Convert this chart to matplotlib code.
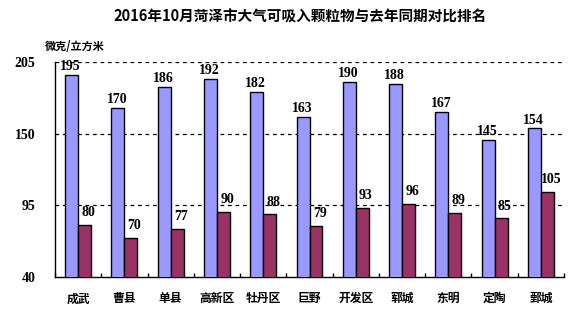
import numpy as np
import matplotlib
matplotlib.use("Agg")
import matplotlib.pyplot as plt

plt.rcParams['font.family'] = ['Liberation Serif', 'Noto Sans CJK SC', 'DejaVu Sans']
plt.rcParams['font.weight'] = 'bold'

# 各县区PM10浓度（微克/立方米）
areas = ["成武", "曹县", "单县", "高新区", "牡丹区", "巨野", "开发区", "郓城", "东明", "定陶", "鄄城"]
last_year = [195, 170, 186, 192, 182, 163, 190, 188, 167, 145, 154]
this_year = [80, 70, 77, 90, 88, 79, 93, 96, 89, 85, 105]
yticks = [40, 95, 150, 205]

cjk = ['Noto Sans CJK SC', 'DejaVu Sans']

fig = plt.figure(figsize=(5.77, 3.24), dpi=100)
ax = fig.add_axes([55/577, (324-277)/324, (564-55)/577, (277-62)/324])

x = np.arange(len(areas))
w = 0.28
ax.bar(x - w/2, last_year, w, color='#9999FF', edgecolor='black', linewidth=1, zorder=3)
ax.bar(x + w/2, this_year, w, color='#993366', edgecolor='black', linewidth=1, zorder=3)

for i in range(len(areas)):
    ax.text(x[i] - w/2 - 0.02, last_year[i] + 1.5, str(last_year[i]), ha='center', va='bottom',
            fontsize=10, fontweight='bold', zorder=4)
    ax.text(x[i] + w/2 + 0.08, this_year[i] + 4.5, str(this_year[i]), ha='center', va='bottom',
            fontsize=10, fontweight='bold', zorder=4)

ax.set_ylim(40, 205)
ax.set_xlim(-0.5, len(areas) - 0.5)
ax.set_yticks(yticks)
ax.set_yticklabels([str(v) for v in yticks], fontsize=10, fontweight='bold')
ax.tick_params(axis='y', length=0, pad=14)
for v in yticks[1:]:
    ax.axhline(v, color='black', linestyle=(0, (3, 3)), linewidth=0.9, zorder=1)

# 分组刻度线朝内，标签放在组中心
ax.set_xticks(np.arange(len(areas) + 1) - 0.5)
ax.set_xticklabels([])
ax.tick_params(axis='x', direction='in', length=3, width=1)
ax.set_xticks(x, minor=True)
ax.set_xticklabels(areas, minor=True, family=cjk, fontsize=8.5, fontweight='heavy')
ax.tick_params(axis='x', which='minor', length=0, pad=11)

for s in ['top', 'right']:
    ax.spines[s].set_visible(False)
ax.spines['left'].set_linewidth(1)
ax.spines['bottom'].set_linewidth(1)

fig.text(300/577, 1 - 17/324, "2016年10月菏泽市大气可吸入颗粒物与去年同期对比排名", family=cjk,
         ha='center', va='center', fontsize=10.5, fontweight='heavy')
fig.text(45/577, 1 - 47/324, "微克/立方米", family=cjk, ha='left', va='center',
         fontsize=8, fontweight='heavy')

fig.savefig("out.png", dpi=100)
